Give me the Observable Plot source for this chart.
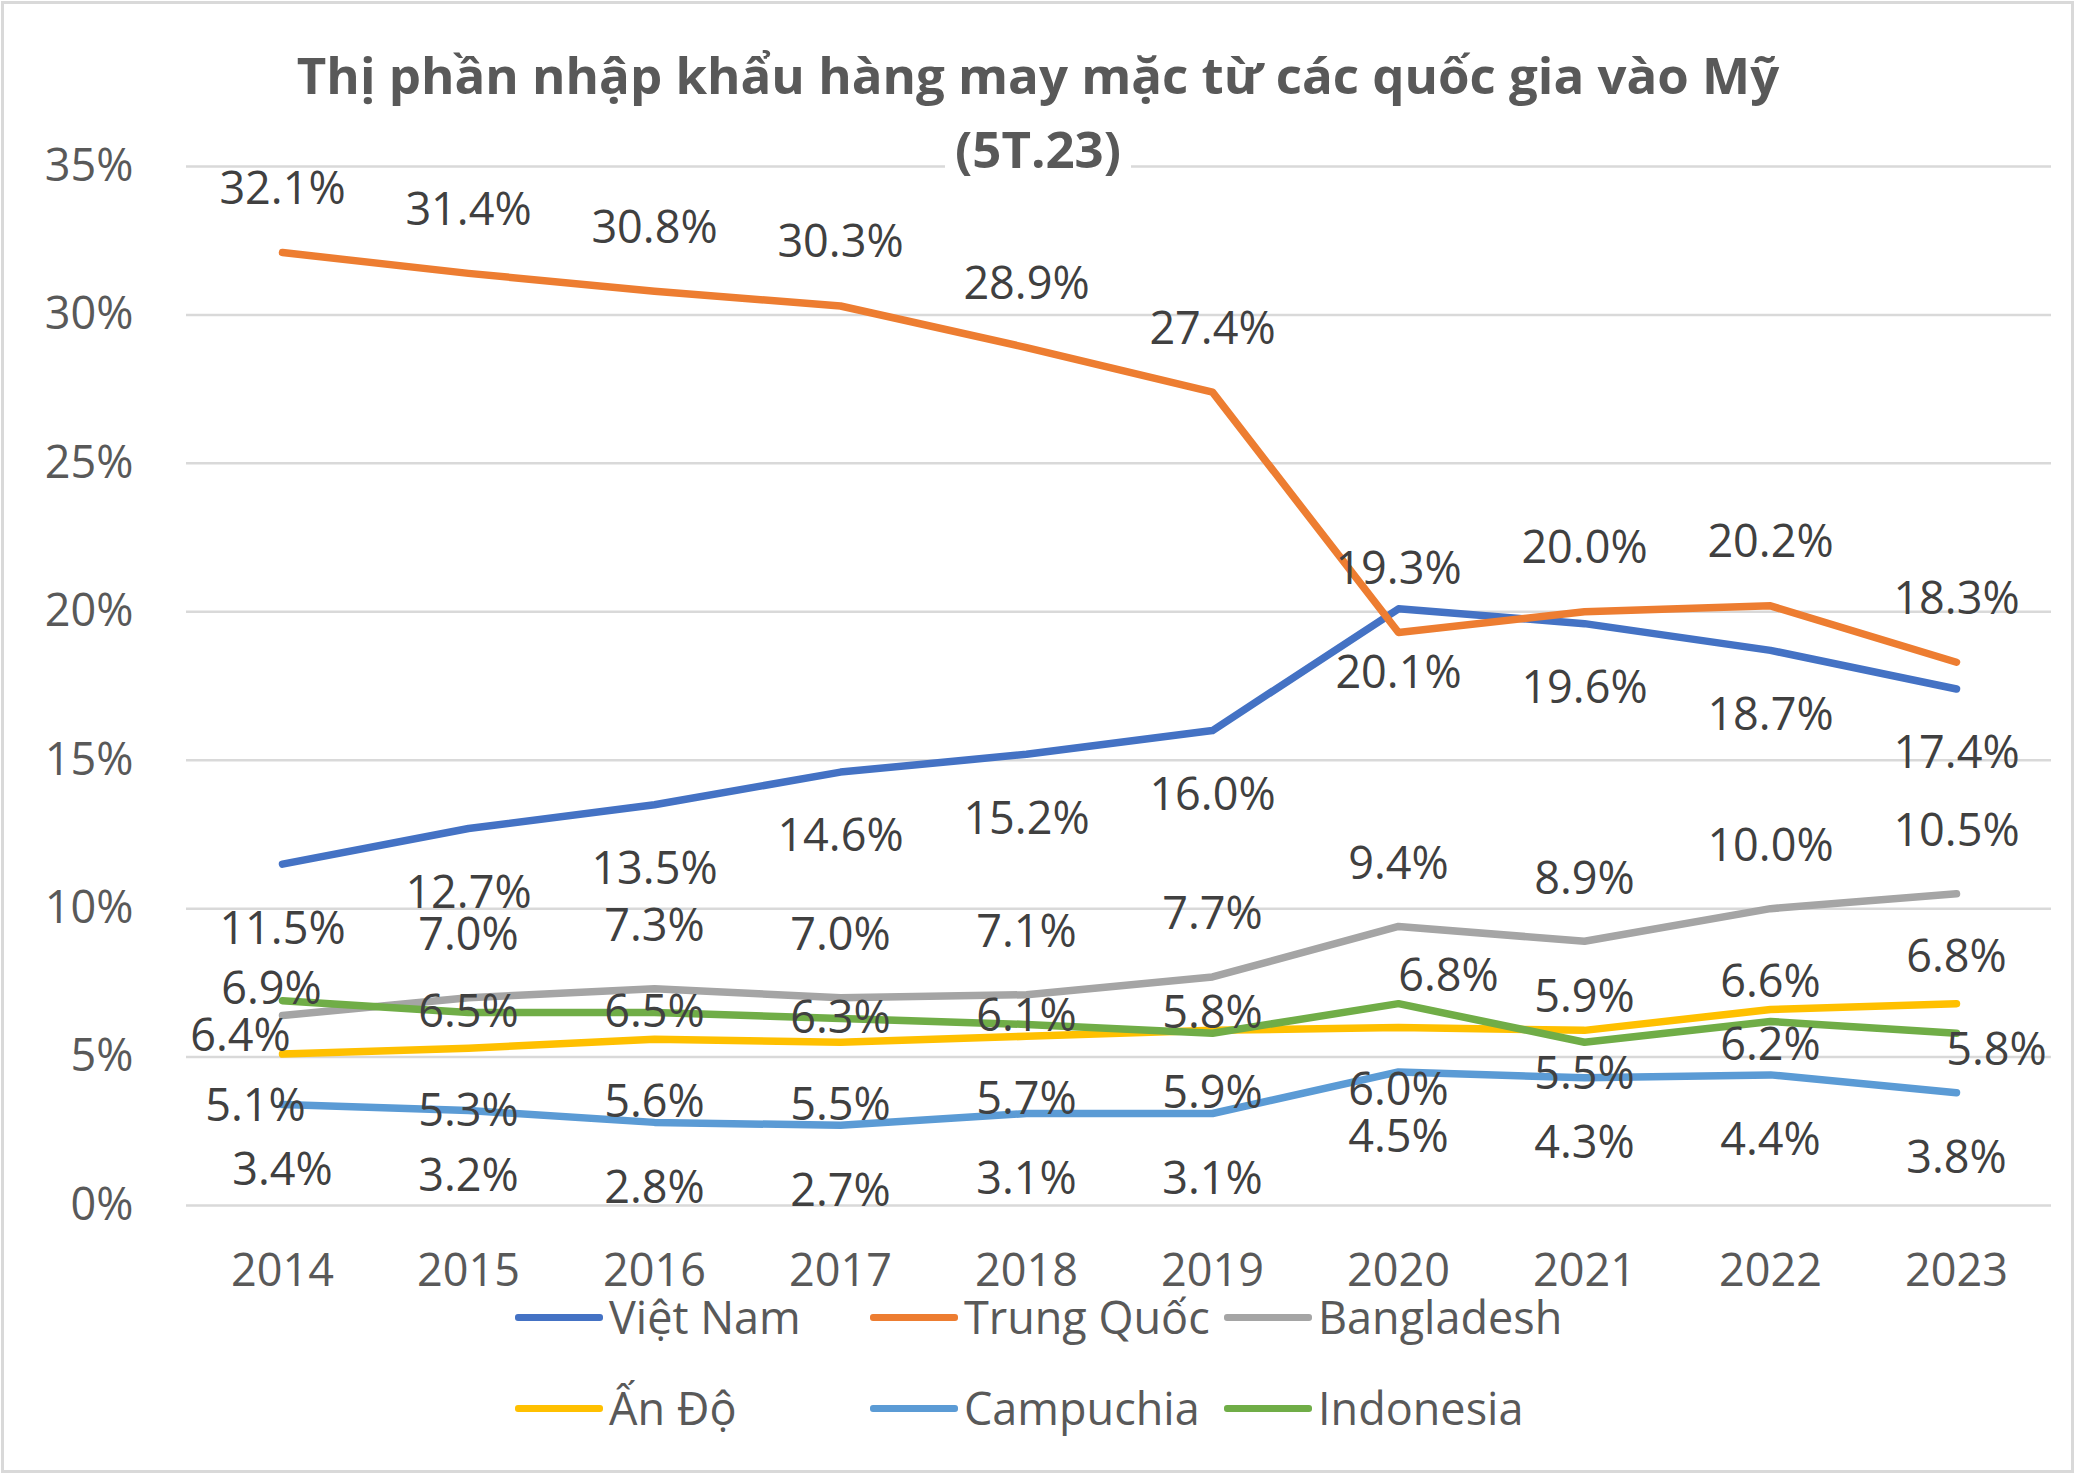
<!DOCTYPE html>
<html>
<head>
<meta charset="utf-8">
<script src="https://cdn.jsdelivr.net/npm/d3@7"></script>
<script src="https://cdn.jsdelivr.net/npm/@observablehq/plot@0.6"></script>
<style>
  body { margin: 0; background: #fff; }
  #wrap { position: relative; width: 2076px; height: 1475px; overflow: hidden; font-family: "Open Sans", sans-serif; color: #595959; background: #fff; }
  #chart { position: absolute; left: 0; top: 0; }
  .title { position: absolute; left: 0; width: 2076px; text-align: center; font-weight: 700; font-size: 51px; line-height: 74px; color: #595959; }
  .title span { background: #fff; padding: 0 10px; }
  .leg { position: absolute; display: flex; align-items: center; font-size: 45px; line-height: 60px; color: #595959; white-space: nowrap; }
  .leg i { display: inline-block; width: 88px; height: 7px; border-radius: 3px; margin-right: 6px; }
  #frame { position: absolute; left: 1px; top: 1px; width: 2073px; height: 1472px; box-sizing: border-box; border: 3px solid #d9d9d9; pointer-events: none; }
</style>
</head>
<body>
<div id="wrap"></div>
<script>
// ---- data ----
const years = ["2014", "2015", "2016", "2017", "2018", "2019", "2020", "2021", "2022", "2023"];
const series = ["Việt Nam", "Trung Quốc", "Bangladesh", "Ấn Độ", "Campuchia", "Indonesia"];
const colors = ["#4472C4", "#ED7D31", "#A5A5A5", "#FFC000", "#5B9BD5", "#70AD47"];
const vietNam   = [11.5, 12.7, 13.5, 14.6, 15.2, 16.0, 20.1, 19.6, 18.7, 17.4];
const trungQuoc = [32.1, 31.4, 30.8, 30.3, 28.9, 27.4, 19.3, 20.0, 20.2, 18.3];
const bangladesh = [6.4, 7.0, 7.3, 7.0, 7.1, 7.7, 9.4, 8.9, 10.0, 10.5];
const anDo      = [5.1, 5.3, 5.6, 5.5, 5.7, 5.9, 6.0, 5.9, 6.6, 6.8];
const campuchia = [3.4, 3.2, 2.8, 2.7, 3.1, 3.1, 4.5, 4.3, 4.4, 3.8];
const indonesia = [6.9, 6.5, 6.5, 6.3, 6.1, 5.8, 6.8, 5.5, 6.2, 5.8];
const yTicks = [0, 5, 10, 15, 20, 25, 30, 35];
const titleLine1 = "Thị phần nhập khẩu hàng may mặc từ các quốc gia vào Mỹ";
const titleLine2 = "(5T.23)";

const valueArrays = [vietNam, trungQuoc, bangladesh, anDo, campuchia, indonesia];
const data = series.flatMap((s, i) => years.map((y, j) => ({series: s, year: y, value: valueArrays[i][j]})));

// ---- label placement (style) ----
const defaultOffset = {
  "Việt Nam": [0, 65], "Trung Quốc": [0, -63], "Bangladesh": [0, -62],
  "Ấn Độ": [0, 63], "Campuchia": [0, 66], "Indonesia": [0, 0]
};
const exceptions = {
  "Bangladesh|2014": [-42, 21],
  "Ấn Độ|2014": [-27, 52], "Ấn Độ|2021": [0, -33], "Ấn Độ|2022": [0, -27], "Ấn Độ|2023": [0, -46],
  "Indonesia|2014": [-11, -11], "Indonesia|2018": [0, -8], "Indonesia|2019": [0, -20],
  "Indonesia|2020": [50, -27], "Indonesia|2021": [0, 32], "Indonesia|2022": [0, 24], "Indonesia|2023": [40, 17]
};
const labelled = data.map(d => {
  const off = exceptions[d.series + "|" + d.year] || defaultOffset[d.series];
  return {...d, dx: off[0], dy: off[1]};
});
const groups = d3.groups(labelled, d => d.dx + "," + d.dy);
const textMarks = groups.map(([key, rows]) => Plot.text(rows, {
  x: "year", y: "value", text: d => d.value.toFixed(1) + "%",
  dx: rows[0].dx, dy: rows[0].dy, fill: "#404040", fontSize: 45
}));

const plot = Plot.plot({
  width: 2076, height: 1300,
  marginLeft: 186, marginRight: 25, marginTop: 166, marginBottom: 95,
  style: {fontFamily: '"Open Sans", sans-serif', fontSize: "45px", color: "#595959", background: "transparent", maxWidth: "none"},
  x: {type: "point", domain: years, padding: 0.5, label: null},
  y: {domain: [0, 35], label: null},
  color: {domain: series, range: colors},
  marks: [
    Plot.gridY(yTicks, {stroke: "#d9d9d9", strokeOpacity: 1, strokeWidth: 2.5}),
    Plot.axisY(yTicks, {tickSize: 0, tickPadding: 53, tickFormat: d => d + "%", label: null, fill: "#595959"}),
    Plot.axisX({tickSize: 0, tickPadding: 49, label: null, fill: "#595959"}),
    Plot.line(data, {x: "year", y: "value", z: "series", stroke: "series", strokeWidth: 7.5, strokeLinejoin: "round", strokeLinecap: "round"}),
    ...textMarks
  ]
});

const wrap = document.getElementById("wrap");
plot.id = "chart";
wrap.appendChild(plot);

const t1 = document.createElement("div");
t1.className = "title"; t1.style.top = "37px";
t1.innerHTML = "<span></span>"; t1.firstChild.textContent = titleLine1;
wrap.appendChild(t1);
const t2 = document.createElement("div");
t2.className = "title"; t2.style.top = "111px";
t2.innerHTML = "<span></span>"; t2.firstChild.textContent = titleLine2;
wrap.appendChild(t2);

// legend
const legCols = [515, 870, 1224];
const legRows = [1317, 1408];
series.forEach((s, i) => {
  const el = document.createElement("div");
  el.className = "leg";
  el.style.left = legCols[i % 3] + "px";
  el.style.top = (legRows[Math.floor(i / 3)] - 30) + "px";
  const sw = document.createElement("i");
  sw.style.background = colors[i];
  el.appendChild(sw);
  el.appendChild(document.createTextNode(s));
  wrap.appendChild(el);
});

const frame = document.createElement("div");
frame.id = "frame";
wrap.appendChild(frame);
</script>
</body>
</html>
